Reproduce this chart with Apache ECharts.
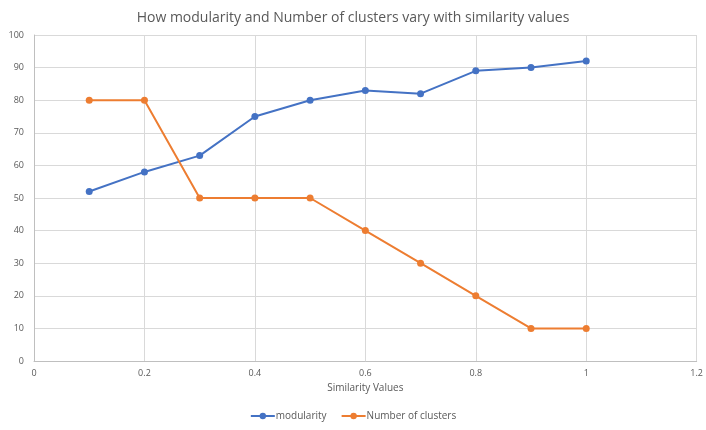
<!DOCTYPE html>
<html>
<head>
<meta charset="utf-8">
<script src="https://cdn.jsdelivr.net/npm/echarts@6/dist/echarts.min.js"></script>
<style>
  html, body { margin: 0; padding: 0; background: #fff; }
  #chart { width: 706px; height: 430px; }
</style>
</head>
<body>
<div id="chart"></div>
<script>
// similarity thresholds on the x axis
const similarity = [0.1, 0.2, 0.3, 0.4, 0.5, 0.6, 0.7, 0.8, 0.9, 1.0];
const modularity = [52, 58, 63, 75, 80, 83, 82, 89, 90, 92];
const clusters = [80, 80, 50, 50, 50, 40, 30, 20, 10, 10];

const pairs = (xs, ys) => xs.map((x, i) => [x, ys[i]]);

let myChart = echarts.init(document.getElementById("chart"));
let option = {
  animation: false,
  textStyle: { fontFamily: "Open Sans, Liberation Sans, sans-serif" },
  title: {
    text: "How modularity and Number of clusters vary with similarity values",
    left: "center",
    top: 6,
    textStyle: { fontSize: 14, fontWeight: "normal", color: "#595959" }
  },
  legend: {
    bottom: 4,
    itemWidth: 24,
    itemHeight: 8,
    itemGap: 14,
    textStyle: { fontSize: 10, color: "#595959", padding: [0, 0, 0, -4] },
    data: ["modularity", "Number of clusters"]
  },
  grid: { left: 34, right: 6, top: 35, bottom: 69 },
  xAxis: {
    type: "value",
    min: 0,
    max: 1.2,
    interval: 0.2,
    name: "Similarity Values",
    nameLocation: "middle",
    nameGap: 22,
    nameTextStyle: { fontSize: 10, color: "#595959" },
    axisLine: { lineStyle: { color: "#bfbfbf" } },
    axisTick: { show: false },
    axisLabel: { fontSize: 9, color: "#595959", margin: 8 },
    splitLine: { show: true, lineStyle: { color: "#d9d9d9" } }
  },
  yAxis: {
    type: "value",
    min: 0,
    max: 100,
    interval: 10,
    axisLine: { show: true, lineStyle: { color: "#bfbfbf" } },
    axisTick: { show: false },
    axisLabel: { fontSize: 9, color: "#595959", margin: 10 },
    splitLine: { lineStyle: { color: "#d9d9d9" } }
  },
  series: [
    {
      name: "modularity",
      type: "line",
      data: pairs(similarity, modularity),
      symbol: "circle",
      symbolSize: 7,
      color: "#4472c4",
      lineStyle: { width: 2 }
    },
    {
      name: "Number of clusters",
      type: "line",
      data: pairs(similarity, clusters),
      symbol: "circle",
      symbolSize: 7,
      color: "#ed7d31",
      lineStyle: { width: 2 }
    }
  ]
};
myChart.setOption(option);
</script>
</body>
</html>
